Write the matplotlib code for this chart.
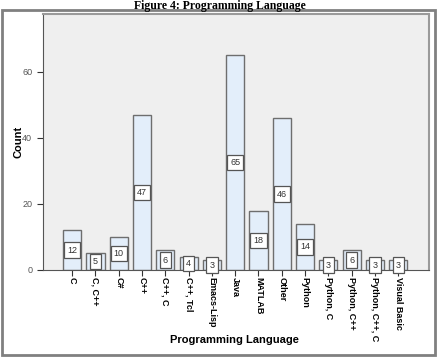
import matplotlib.pyplot as plt
import matplotlib.patches as patches
import numpy as np

languages = ["C", "C, C++", "C#", "C++", "C++, C", "C++, Tcl", "Emacs-Lisp",
             "Java", "MATLAB", "Other", "Python", "Python, C", "Python, C++",
             "Python, C++, C", "Visual Basic"]
counts = [12, 5, 10, 47, 6, 4, 3, 65, 18, 46, 14, 3, 6, 3, 3]

plt.rcParams['font.family'] = ['Liberation Sans', 'DejaVu Sans']

fig = plt.figure(figsize=(4.39, 3.59), dpi=100)
ax = fig.add_axes([0.097, 0.248, 0.88, 0.713])

# outer frame around the chart
fig.patches.append(patches.Rectangle((0.005, 0.011), 0.987, 0.96, transform=fig.transFigure,
                                     fill=False, edgecolor='#808080', linewidth=2))

fig.text(0.5, 0.984, "Figure 4: Programming Language", ha='center', va='center',
         family='Liberation Serif', fontweight='bold', fontsize=8.5)

x = np.arange(len(languages))
ax.set_facecolor('#efefef')
ax.bar(x, counts, width=0.78, color='#e3eefa', edgecolor='#6e6e6e', linewidth=1)

for xi, c in zip(x, counts):
    ax.text(xi, c / 2, str(c), ha='center', va='center', fontsize=6.5, color='#333333',
            bbox=dict(boxstyle='square,pad=0.35', facecolor='white', edgecolor='#555555', linewidth=0.9))

ax.set_xlim(-1.27, 15.32)
ax.set_ylim(0, 77.5)
ax.set_yticks([0, 20, 40, 60])
ax.set_xticks(x)
ax.set_xticklabels(languages, rotation=270, fontsize=6.5, fontweight='bold', va='top')
ax.tick_params(axis='y', labelsize=6.5, labelcolor='#555555', length=4, color='#333333')
ax.tick_params(axis='x', length=4, color='#333333', pad=1)

for s in ['left', 'bottom']:
    ax.spines[s].set_color('#555555')
for s in ['top', 'right']:
    ax.spines[s].set_color('#9a9a9a')
    ax.spines[s].set_linewidth(1.5)

fig.text(0.042, 1 - 142 / 359, "Count", rotation=90, ha='center', va='center',
         fontsize=8, fontweight='bold')
fig.text(0.535, 1 - 340 / 359, "Programming Language", ha='center', va='center',
         fontsize=8, fontweight='bold')

fig.savefig("out.png", dpi=100)
